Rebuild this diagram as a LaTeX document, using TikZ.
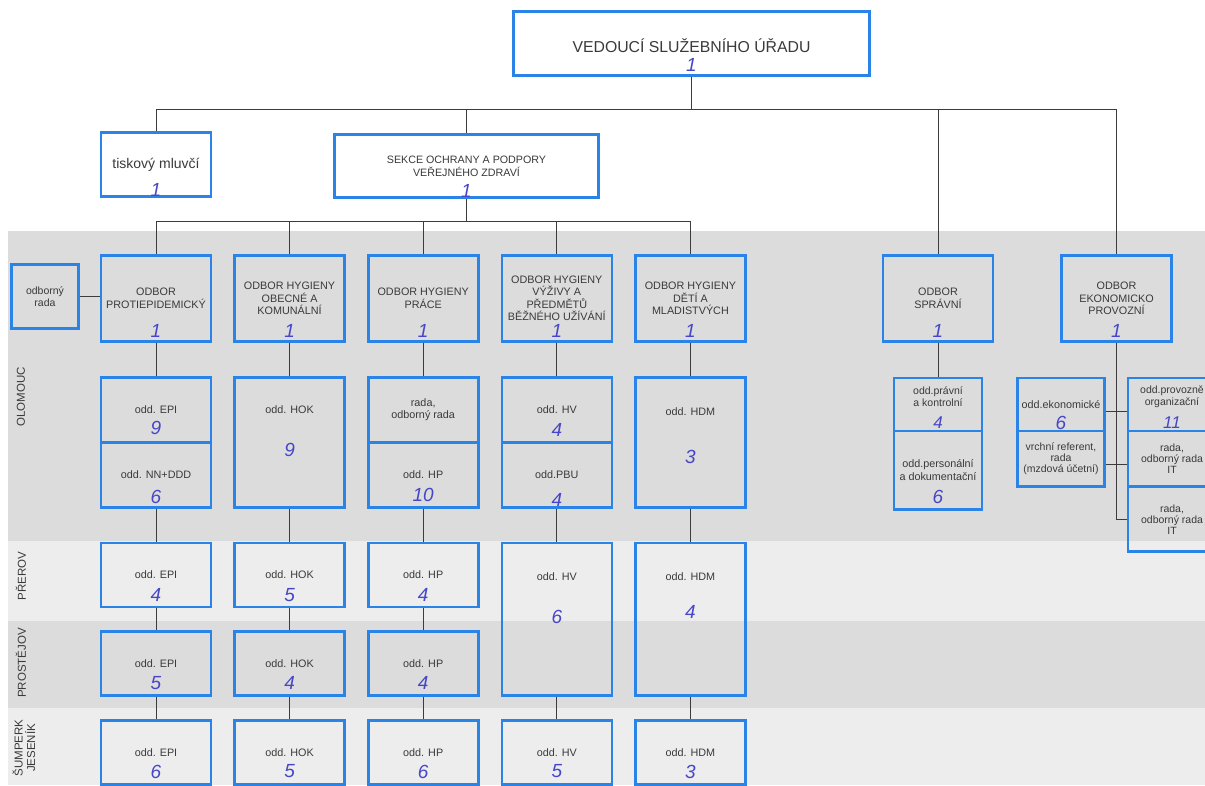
\documentclass[tikz,border=0pt]{standalone}
\usepackage{fontspec}
\setmainfont{Liberation Sans}
\usepackage{xcolor}
\usetikzlibrary{positioning}

\definecolor{boxblue}{HTML}{2A83E6}
\definecolor{penblue}{HTML}{4646C8}
\definecolor{textgray}{HTML}{3A3A3A}
\definecolor{linegray}{HTML}{3C3C3C}
\definecolor{banddark}{HTML}{DCDCDC}
\definecolor{bandlight}{HTML}{EDEDED}

\begin{document}
\begin{tikzpicture}[
        x=1pt, y=-1pt,
        node distance=21pt,
        box/.style={rectangle, draw=boxblue, line width=2.6pt, inner sep=1pt, align=center, text=textgray, font=\fontsize{10.8}{12.6}\selectfont},
        dept/.style={box, minimum width=110pt, minimum height=86pt},
        half/.style={box, minimum width=110pt, minimum height=65pt},
        olo/.style={box, minimum width=110pt, minimum height=130pt},
        town/.style={box, minimum width=110pt, minimum height=64pt},
        twotown/.style={box, minimum width=110pt, minimum height=152.6pt},
        subbox/.style={box, minimum width=88pt, minimum height=53pt},
        boxtext/.style={align=center, text=textgray, font=\fontsize{10.8}{12.6}\selectfont, inner sep=0pt},
        headcount/.style={text=penblue, font=\fontsize{19}{19}\selectfont\itshape, inner sep=0pt},
        townlabel/.style={rotate=90, align=center, text=textgray, font=\fontsize{11.5}{12.5}\selectfont},
        link/.style={draw=linegray, line width=1pt}
    ]
    \useasboundingbox (0,0) rectangle (1205,785);
    \fill[white] (0,0) rectangle (1205,785);
    % town bands
    \fill[banddark] (8,231) rectangle (1205,541);
    \fill[bandlight] (8,541) rectangle (1205,621);
    \fill[banddark] (8,621) rectangle (1205,708);
    \fill[bandlight] (8,708) rectangle (1205,785);
    \node[townlabel] (olomouc) at (21,397) {OLOMOUC};
    \node[townlabel] (prerov) at (21,576) {PŘEROV};
    \node[townlabel] (prostejov) at (21,663) {PROSTĚJOV};
    \node[townlabel] (sumperk) at (24,748) {ŠUMPERK\\JESENÍK};

    % top level
    \node[box, minimum width=356pt, minimum height=64pt] (chief) at (691.5,43.5) {};
    \node[boxtext, font=\fontsize{15.8}{17}\selectfont] (t-chief) at ([yshift=-2.5pt]chief.center) {VEDOUCÍ SLUŽEBNÍHO ÚŘADU};
    \node[headcount] (n-chief) at ([yshift=12pt]chief.south) {1};
    \node[box, minimum width=110pt, minimum height=64.4pt, font=\fontsize{14}{16}\selectfont] (press) at (156,164.5) {tiskový mluvčí};
    \node[headcount] (n-press) at ([yshift=8pt]press.south) {1};
    \node[box, minimum width=264.4pt, minimum height=63.4pt, font=\fontsize{10.7}{12.8}\selectfont] (section) at (466.5,166) {SEKCE OCHRANY A PODPORY\\VEŘEJNÉHO ZDRAVÍ};
    \node[headcount] (n-section) at ([yshift=8pt]section.south) {1};

    % departments
    \node[dept] (epidem) at (156,298.3) {ODBOR\\PROTIEPIDEMICKÝ};
    \node[dept, right=of epidem] (hok) {ODBOR HYGIENY\\OBECNÉ A\\KOMUNÁLNÍ};
    \node[dept, right=of hok] (hp) {ODBOR HYGIENY\\PRÁCE};
    \node[dept, right=of hp] (hv) {ODBOR HYGIENY\\VÝŽIVY A\\PŘEDMĚTŮ\\BĚŽNÉHO UŽÍVÁNÍ};
    \node[dept, right=of hv] (hdm) {ODBOR HYGIENY\\DĚTÍ A\\MLADISTVÝCH};
    \node[dept] (admin) at (938,298.3) {ODBOR\\SPRÁVNÍ};
    \node[dept] (econ) at (1116.5,298.3) {ODBOR\\EKONOMICKO\\PROVOZNÍ};
    \node[box, minimum width=67.4pt, minimum height=64.4pt, font=\fontsize{10.5}{12.2}\selectfont] (advisor) at (45,296.5) {odborný\\rada};
    \node[headcount] (n-epidem) at ([yshift=12pt]epidem.south) {1};
    \node[headcount] (n-hok) at ([yshift=12pt]hok.south) {1};
    \node[headcount] (n-hp) at ([yshift=12pt]hp.south) {1};
    \node[headcount] (n-hv) at ([yshift=12pt]hv.south) {1};
    \node[headcount] (n-hdm) at ([yshift=12pt]hdm.south) {1};
    \node[headcount] (n-admin) at ([yshift=12pt]admin.south) {1};
    \node[headcount] (n-econ) at ([yshift=12pt]econ.south) {1};

    % Olomouc
    \node[half, below=33.5pt of epidem] (olepi) {odd. EPI};
    \node[half, below=-2.6pt of olepi] (olnn) {odd. NN+DDD};
    \node[olo, below=33.5pt of hok] (olhok) {};
    \node[half, below=33.5pt of hp] (olrada) {rada,\\odborný rada};
    \node[half, below=-2.6pt of olrada] (olhp) {odd. HP};
    \node[half, below=33.5pt of hv] (olhv) {odd. HV};
    \node[half, below=-2.6pt of olhv] (olpbu) {odd.PBU};
    \node[olo, below=33.5pt of hdm] (olhdm) {};
    \node[boxtext] (t-olhok) at ([yshift=-34pt]olhok.north) {odd. HOK};
    \node[boxtext] (t-olhdm) at ([yshift=-36pt]olhdm.north) {odd. HDM};
    \node[headcount] (n-olepi) at ([yshift=16pt]olepi.south) {9};
    \node[headcount] (n-olnn) at ([yshift=12pt]olnn.south) {6};
    \node[headcount] (n-olhok) at ([yshift=59pt]olhok.south) {9};
    \node[headcount] (n-olhp) at ([yshift=14pt]olhp.south) {10};
    \node[headcount] (n-olhv) at ([yshift=14pt]olhv.south) {4};
    \node[headcount] (n-olpbu) at ([yshift=9pt]olpbu.south) {4};
    \node[headcount] (n-olhdm) at ([yshift=52pt]olhdm.south) {3};

    % Prerov
    \node[town, below=33pt of olnn] (prepi) {odd. EPI};
    \node[town, below=33pt of olhok] (prhok) {odd. HOK};
    \node[town, below=33pt of olhp] (prhp) {odd. HP};
    \node[twotown, below=33pt of olpbu] (prhv) {};
    \node[twotown, below=33pt of olhdm] (prhdm) {};
    \node[boxtext] (t-prhv) at ([yshift=-35pt]prhv.north) {odd. HV};
    \node[boxtext] (t-prhdm) at ([yshift=-35pt]prhdm.north) {odd. HDM};
    \node[headcount] (n-prepi) at ([yshift=13pt]prepi.south) {4};
    \node[headcount] (n-prhok) at ([yshift=13pt]prhok.south) {5};
    \node[headcount] (n-prhp) at ([yshift=13pt]prhp.south) {4};
    \node[headcount] (n-prhv) at ([yshift=80pt]prhv.south) {6};
    \node[headcount] (n-prhdm) at ([yshift=85pt]prhdm.south) {4};

    % Prostejov
    \node[town, below=22pt of prepi] (pvepi) {odd. EPI};
    \node[town, below=22pt of prhok] (pvhok) {odd. HOK};
    \node[town, below=22pt of prhp] (pvhp) {odd. HP};
    \node[headcount] (n-pvepi) at ([yshift=14pt]pvepi.south) {5};
    \node[headcount] (n-pvhok) at ([yshift=14pt]pvhok.south) {4};
    \node[headcount] (n-pvhp) at ([yshift=14pt]pvhp.south) {4};

    % Sumperk, Jesenik
    \node[town, below=22pt of pvepi] (suepi) {odd. EPI};
    \node[town, below=22pt of pvhok] (suhok) {odd. HOK};
    \node[town, below=22pt of pvhp] (suhp) {odd. HP};
    \node[town, below=22pt of prhv] (suhv) {odd. HV};
    \node[town, below=22pt of prhdm] (suhdm) {odd. HDM};
    \node[headcount] (n-suepi) at ([yshift=14pt]suepi.south) {6};
    \node[headcount] (n-suhok) at ([yshift=14pt]suhok.south) {5};
    \node[headcount] (n-suhp) at ([yshift=14pt]suhp.south) {6};
    \node[headcount] (n-suhv) at ([yshift=14pt]suhv.south) {5};
    \node[headcount] (n-suhdm) at ([yshift=14pt]suhdm.south) {3};

    % admin and economy units
    \node[subbox, below=34pt of admin] (legal) {};
    \node[boxtext, font=\fontsize{10.5}{11.5}\selectfont] (t-legal) at ([yshift=-20pt]legal.north) {odd.právní\\a kontrolní};
    \node[subbox, minimum height=78.8pt, below=-2.6pt of legal] (personnel) {odd.personální\\a dokumentační};
    \node[subbox, minimum width=87.4pt] (accounts) at (1061,404.4) {odd.ekonomické};
    \node[subbox, minimum width=87.4pt, minimum height=55.8pt, below=-2.6pt of accounts, font=\fontsize{10.5}{11}\selectfont] (payroll) {vrchní referent,\\rada\\(mzdová účetní)};
    \node[subbox] (operations) at (1172,404.4) {};
    \node[boxtext, font=\fontsize{10.5}{11.5}\selectfont] (t-operations) at ([yshift=-20pt]operations.north) {odd.provozně\\organizační};
    \node[subbox, minimum height=55.8pt, below=-2.6pt of operations, font=\fontsize{10.5}{11}\selectfont] (itone) {rada,\\odborný rada\\IT};
    \node[subbox, minimum height=65pt, below=-2.6pt of itone, font=\fontsize{10.5}{11}\selectfont] (ittwo) {rada,\\odborný rada\\IT};
    \node[headcount, font=\fontsize{17}{17}\selectfont\itshape] (n-legal) at ([yshift=10pt]legal.south) {4};
    \node[headcount] (n-personnel) at ([yshift=14pt]personnel.south) {6};
    \node[headcount] (n-accounts) at ([yshift=9pt]accounts.south) {6};
    \node[headcount, font=\fontsize{17}{17}\selectfont\itshape] (n-operations) at ([yshift=10pt]operations.south) {11};

    % connectors
    \draw[link] (chief.south) -- ++(0,33) -| (press.north);
    \draw[link] (chief.south) -- ++(0,33) -| (section.north);
    \draw[link] (chief.south) -- ++(0,33) -| (admin.north);
    \draw[link] (chief.south) -- ++(0,33) -| (econ.north);
    \draw[link] (section.south) -- ++(0,22) -| (epidem.north);
    \draw[link] (section.south) -- ++(0,22) -| (hok.north);
    \draw[link] (section.south) -- ++(0,22) -| (hp.north);
    \draw[link] (section.south) -- ++(0,22) -| (hv.north);
    \draw[link] (section.south) -- ++(0,22) -| (hdm.north);
    \draw[link] (advisor.east) -- (advisor.east -| epidem.west);
    \draw[link] (epidem) -- (olepi);
    \draw[link] (olnn) -- (prepi);
    \draw[link] (prepi) -- (pvepi);
    \draw[link] (pvepi) -- (suepi);
    \draw[link] (hok) -- (olhok);
    \draw[link] (olhok) -- (prhok);
    \draw[link] (prhok) -- (pvhok);
    \draw[link] (pvhok) -- (suhok);
    \draw[link] (hp) -- (olrada);
    \draw[link] (olhp) -- (prhp);
    \draw[link] (prhp) -- (pvhp);
    \draw[link] (pvhp) -- (suhp);
    \draw[link] (hv) -- (olhv);
    \draw[link] (olpbu) -- (prhv);
    \draw[link] (prhv) -- (suhv);
    \draw[link] (hdm) -- (olhdm);
    \draw[link] (olhdm) -- (prhdm);
    \draw[link] (prhdm) -- (suhdm);
    \draw[link] (admin) -- (legal);
    \draw[link] (econ.south) |- (ittwo.west);
    \draw[link] ([yshift=-7pt]accounts.east) -- ([yshift=-7pt]accounts.east -| operations.west);
    \draw[link] ([yshift=-6pt]payroll.east) -- ([yshift=-6pt]payroll.east -| itone.west);
\end{tikzpicture}
\end{document}
